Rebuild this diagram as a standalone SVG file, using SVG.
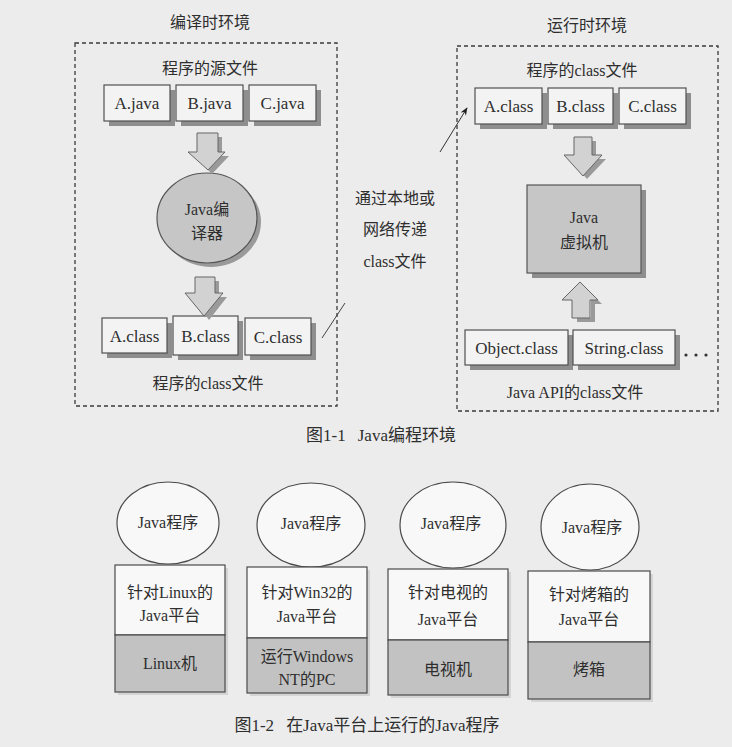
<svg xmlns="http://www.w3.org/2000/svg" width="732" height="747" viewBox="0 0 732 747">
<style>
text{font-family:'Liberation Serif','Noto Sans CJK SC',serif;font-size:16px;fill:#2e2e2e;text-anchor:middle}
.lbl{font-size:17px}
.env{fill:none;stroke:#3a3a3a;stroke-width:1.3;stroke-dasharray:4 3}
.box{fill:#f3f3f3;stroke:#505050;stroke-width:1.2}
.shd{fill:#8e8e8e}
.gray{fill:#c6c6c6;stroke:#555;stroke-width:1.2}
.barrow{fill:#d2d2d2;stroke:#666;stroke-width:1}
.bshd{fill:#9a9a9a}
.plat{fill:#f8f8f8;stroke:#4a4a4a;stroke-width:1.2}
.mach{fill:#c2c2c2;stroke:#4a4a4a;stroke-width:1.2}
.lshd{fill:#d4d4d4}
.prog{fill:#f8f8f8;stroke:#4a4a4a;stroke-width:1.2}
</style>
<defs>
<marker id="ah" viewBox="0 0 10 10" refX="9" refY="5" markerWidth="8" markerHeight="8" orient="auto-start-reverse">
<path d="M0,1 L10,5 L0,9 L3,5 Z" fill="#222"/>
</marker>
</defs>
<rect width="732" height="747" fill="#ececec"/>

<!-- Figure 1-1 -->
<g id="compile-env">
<rect class="env" x="75" y="43" width="262" height="363"/>
<text x="210" y="28">编译时环境</text>
<text x="210" y="74">程序的源文件</text>
<text x="208" y="389">程序的class文件</text>
</g>
<g id="a-java"><rect class="shd" x="109" y="90" width="66" height="36"/><rect class="box" x="104" y="85" width="66" height="36"/><text class="lbl" x="137" y="109">A.java</text></g>
<g id="b-java"><rect class="shd" x="181" y="90" width="67" height="36"/><rect class="box" x="176" y="85" width="67" height="36"/><text class="lbl" x="209.5" y="109">B.java</text></g>
<g id="c-java"><rect class="shd" x="254" y="90" width="67" height="36"/><rect class="box" x="249" y="85" width="67" height="36"/><text class="lbl" x="282.5" y="109">C.java</text></g>
<g id="javac">
<ellipse cx="211" cy="222" rx="50" ry="45" fill="#9a9a9a"/>
<ellipse class="gray" cx="207" cy="218" rx="50" ry="45"/>
<text x="207" y="215">Java编</text>
<text x="207" y="239">译器</text>
</g>
<g id="a-class-l"><rect class="shd" x="107" y="323" width="65" height="35"/><rect class="box" x="102" y="318" width="65" height="35"/><text class="lbl" x="134.5" y="342">A.class</text></g>
<g id="b-class-l"><rect class="shd" x="178" y="321" width="65" height="39"/><rect class="box" x="173" y="316" width="65" height="39"/><text class="lbl" x="205.5" y="342">B.class</text></g>
<g id="c-class-l"><rect class="shd" x="250" y="323" width="66" height="37"/><rect class="box" x="245" y="318" width="66" height="37"/><text class="lbl" x="278" y="343">C.class</text></g>

<g id="transfer-label">
<text x="395" y="204">通过本地或</text>
<text x="395" y="235">网络传递</text>
<text x="395" y="267">class文件</text>
</g>

<g id="run-env">
<rect class="env" x="457" y="46" width="261" height="365"/>
<text x="587" y="31">运行时环境</text>
<text x="582" y="76">程序的class文件</text>
<text x="575" y="398">Java API的class文件</text>
<circle cx="686" cy="355" r="1.6" fill="#333"/>
<circle cx="696" cy="355" r="1.6" fill="#333"/>
<circle cx="706" cy="355" r="1.6" fill="#333"/>
</g>
<g id="a-class-r"><rect class="shd" x="480" y="93" width="67" height="36"/><rect class="box" x="475" y="88" width="67" height="36"/><text class="lbl" x="508.5" y="112">A.class</text></g>
<g id="b-class-r"><rect class="shd" x="553" y="93" width="65" height="36"/><rect class="box" x="548" y="88" width="65" height="36"/><text class="lbl" x="580.5" y="112">B.class</text></g>
<g id="c-class-r"><rect class="shd" x="624" y="93" width="67" height="36"/><rect class="box" x="619" y="88" width="67" height="36"/><text class="lbl" x="652.5" y="112">C.class</text></g>
<g id="jvm">
<rect class="shd" x="532" y="190" width="114" height="88"/>
<rect class="gray" x="527" y="185" width="114" height="88"/>
<text x="584" y="223">Java</text>
<text x="584" y="248">虚拟机</text>
</g>
<g id="object-class"><rect class="shd" x="470" y="335" width="103" height="35"/><rect class="box" x="465" y="330" width="103" height="35"/><text class="lbl" x="516.5" y="354">Object.class</text></g>
<g id="string-class"><rect class="shd" x="578" y="335" width="102" height="35"/><rect class="box" x="573" y="330" width="102" height="35"/><text class="lbl" x="624" y="354">String.class</text></g>

<g id="connectors">
<path class="bshd" d="M201,137 H222 V156 H229 L212,174 L206,168 Z"/>
<path class="barrow" d="M197,133 H218 V152 H225 L208,170 L188,152 H197 Z"/>
<path class="bshd" d="M199,281 H219 V297 H227 L209,320 L204,313 Z"/>
<path class="barrow" d="M195,277 H215 V293 H223 L204,316 L185,293 H195 Z"/>
<path class="bshd" d="M578,141 H596 V159 H606 L587,179 L581,172 Z"/>
<path class="barrow" d="M574,137 H592 V155 H602 L583,176 L564,155 H574 Z"/>
<path class="bshd" d="M585,288 L602,304 H595 V322 H577 V318 H591 V300 Z"/>
<path class="barrow" d="M580,282 L598,300 H590 V318 H572 V300 H562 Z"/>
<line x1="322" y1="338" x2="345" y2="303" stroke="#444" stroke-width="1"/>
<line x1="440" y1="152" x2="467" y2="108" stroke="#333" stroke-width="1" marker-end="url(#ah)"/>
</g>

<text x="381" y="441" style="font-size:17px">图1-1<tspan dx="12">Java编程环境</tspan></text>

<!-- Figure 1-2 -->
<g id="linux">
<ellipse class="prog" cx="168" cy="523" rx="51" ry="41"/>
<text x="168" y="528">Java程序</text>
<rect class="lshd" x="118" y="568" width="110" height="127"/>
<rect class="plat" x="115" y="565" width="110" height="70"/>
<rect class="mach" x="115" y="635" width="110" height="57"/>
<text x="170" y="598">针对Linux的</text>
<text x="170" y="621">Java平台</text>
<text x="170" y="669">Linux机</text>
</g>
<g id="win32">
<ellipse class="prog" cx="311" cy="525" rx="54" ry="42"/>
<text x="311" y="529">Java程序</text>
<rect class="lshd" x="250" y="570" width="120" height="126"/>
<rect class="plat" x="247" y="567" width="120" height="71"/>
<rect class="mach" x="247" y="638" width="120" height="55"/>
<text x="307" y="598">针对Win32的</text>
<text x="307" y="622">Java平台</text>
<text x="307" y="662">运行Windows</text>
<text x="307" y="685">NT的PC</text>
</g>
<g id="tv">
<ellipse class="prog" cx="453" cy="525" rx="53" ry="43"/>
<text x="451" y="529">Java程序</text>
<rect class="lshd" x="391" y="572" width="120" height="126"/>
<rect class="plat" x="388" y="569" width="120" height="71"/>
<rect class="mach" x="388" y="640" width="120" height="55"/>
<text x="448" y="598">针对电视的</text>
<text x="448" y="625">Java平台</text>
<text x="448" y="675">电视机</text>
</g>
<g id="toaster">
<ellipse class="prog" cx="590" cy="527" rx="49" ry="43"/>
<text x="592" y="533">Java程序</text>
<rect class="lshd" x="531" y="574" width="122" height="128"/>
<rect class="plat" x="528" y="571" width="122" height="71"/>
<rect class="mach" x="528" y="642" width="122" height="57"/>
<text x="589" y="600">针对烤箱的</text>
<text x="589" y="625">Java平台</text>
<text x="589" y="675">烤箱</text>
</g>
<text x="367" y="731" style="font-size:17px">图1-2<tspan dx="12">在Java平台上运行的Java程序</tspan></text>
</svg>
